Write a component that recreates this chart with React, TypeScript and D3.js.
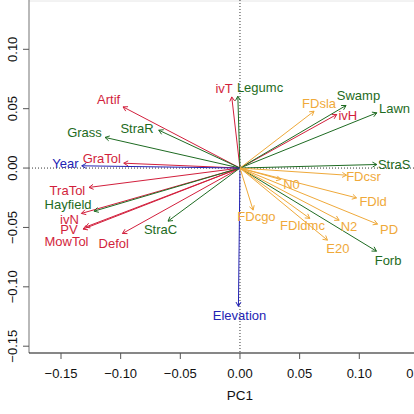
import React from "react";
import * as d3 from "d3";

const names = ["Artif","GraTol","TraTol","ivN","PV","MowTol","Defol","ivT","ivH",
  "Grass","StraR","Hayfield","StraC","Legumc","Swamp","Lawn","StraS","Forb",
  "Year","Elevation",
  "FDsla","FDcsr","N0","FDld","FDcgo","FDldmc","N2","PD","E20"];
const groups = ["r","r","r","r","r","r","r","r","r",
  "g","g","g","g","g","g","g","g","g",
  "b","b",
  "o","o","o","o","o","o","o","o","o"];
const pc1 = [-0.098,-0.0974,-0.1265,-0.1329,-0.1315,-0.1295,-0.0985,-0.0069,0.0811,
  -0.1131,-0.0681,-0.1223,-0.0603,-0.0018,0.0889,0.1147,0.1147,0.1144,
  -0.1326,-0.0013,
  0.0621,0.0893,0.0342,0.0977,0.011,0.0585,0.0831,0.1153,0.0733];
const pc2 = [0.0515,0.0041,-0.0163,-0.0382,-0.0514,-0.0497,-0.0551,0.0599,0.0451,
  0.0258,0.0319,-0.0363,-0.0447,0.0605,0.0527,0.0465,0.003,-0.07,
  0.0019,-0.1165,
  0.0479,-0.006,-0.0096,-0.0251,-0.0354,-0.0424,-0.0439,-0.0472,-0.0607];
const labelX = [-0.1101,-0.1158,-0.1446,-0.1429,-0.1433,-0.1454,-0.1058,-0.0133,0.0904,
  -0.1303,-0.0863,-0.1441,-0.0666,0.0168,0.0993,0.1295,0.1292,0.1241,
  -0.1463,-0.0004,
  0.0663,0.1035,0.0432,0.1116,0.0138,0.0524,0.0914,0.125,0.082];
const labelY = [0.0577,0.0081,-0.0189,-0.043,-0.0514,-0.0621,-0.0635,0.067,0.0445,
  0.0302,0.0336,-0.0306,-0.0514,0.0678,0.0614,0.0502,0.0033,-0.0775,
  0.0035,-0.1241,
  0.0544,-0.0074,-0.0138,-0.0285,-0.0411,-0.0481,-0.0495,-0.0514,-0.0677];
const xTicks = [-0.15,-0.1,-0.05,0,0.05,0.1,0.15];
const yTicks = [-0.15,-0.1,-0.05,0,0.05,0.1];

const colors: Record<string,string> = { r: "#d21f3c", g: "#1e6b22", b: "#2424b4", o: "#efa93a" };

const x = d3.scaleLinear().domain([-0.15, 0.1]).range([61, 359.3]);
const y = d3.scaleLinear().domain([-0.15, 0.1]).range([346.2, 49.3]);

const fmt = (v: number) => {
  const s = Math.abs(v).toFixed(2);
  return (v < 0 ? "\u2212" : "") + s;
};

export default function App() {
  const axLeft = 29, axBottom = 353;
  const font = "Liberation Sans, Arial, Helvetica, sans-serif";
  const x0 = x(0), y0 = y(0);
  return (
    <svg width={414} height={414} style={{ position: "absolute", left: 0, top: 0, background: "#fff" }} fontFamily={font}>
      <rect x={0} y={0} width={414} height={414} fill="#fff" />
      {/* faint top border */}
      <line x1={axLeft} x2={414} y1={1} y2={1} stroke="#e6e6e6" strokeWidth={1} />
      {/* zero lines */}
      <line x1={axLeft} x2={414} y1={y0} y2={y0} stroke="#333" strokeWidth={1} strokeDasharray="1,2" />
      <line x1={x0} x2={x0} y1={0} y2={axBottom} stroke="#333" strokeWidth={1} strokeDasharray="1,2" />
      {/* axes */}
      <line x1={axLeft} x2={axLeft} y1={0} y2={axBottom} stroke="#8a8a8a" strokeWidth={1.2} />
      <line x1={axLeft} x2={414} y1={axBottom} y2={axBottom} stroke="#111" strokeWidth={1.2} />
      {xTicks.map((t) => (
        <g key={"xt" + t}>
          <line x1={x(t)} x2={x(t)} y1={axBottom} y2={axBottom + 6} stroke="#555" strokeWidth={1} />
          <text x={x(t)} y={377.5} fontSize={13} textAnchor="middle" fill="#111">{fmt(t)}</text>
        </g>
      ))}
      {yTicks.map((t) => (
        <g key={"yt" + t}>
          <line x1={axLeft - 6} x2={axLeft} y1={y(t)} y2={y(t)} stroke="#555" strokeWidth={1} />
          <text transform={`translate(16.5,${y(t)}) rotate(-90)`} fontSize={13} textAnchor="middle" fill="#111">{fmt(t)}</text>
        </g>
      ))}
      <text x={x0} y={400} fontSize={13.5} textAnchor="middle" fill="#111">PC1</text>
      {/* arrows */}
      {names.map((n, i) => {
        const tx = x(pc1[i]), ty = y(pc2[i]);
        const ang = Math.atan2(ty - y0, tx - x0);
        const L = 5, a = Math.PI / 6;
        const p1 = [tx - L * Math.cos(ang - a), ty - L * Math.sin(ang - a)];
        const p2 = [tx - L * Math.cos(ang + a), ty - L * Math.sin(ang + a)];
        const c = colors[groups[i]];
        return (
          <g key={n} stroke={c} strokeWidth={1} fill="none">
            <line x1={x0} y1={y0} x2={tx} y2={ty} />
            <polyline points={`${p1[0]},${p1[1]} ${tx},${ty} ${p2[0]},${p2[1]}`} />
          </g>
        );
      })}
      {names.map((n, i) => (
        <text key={"l" + n} x={x(labelX[i])} y={y(labelY[i])} fontSize={13} textAnchor="middle"
          dominantBaseline="central" fill={colors[groups[i]]}>{n}</text>
      ))}
    </svg>
  );
}
